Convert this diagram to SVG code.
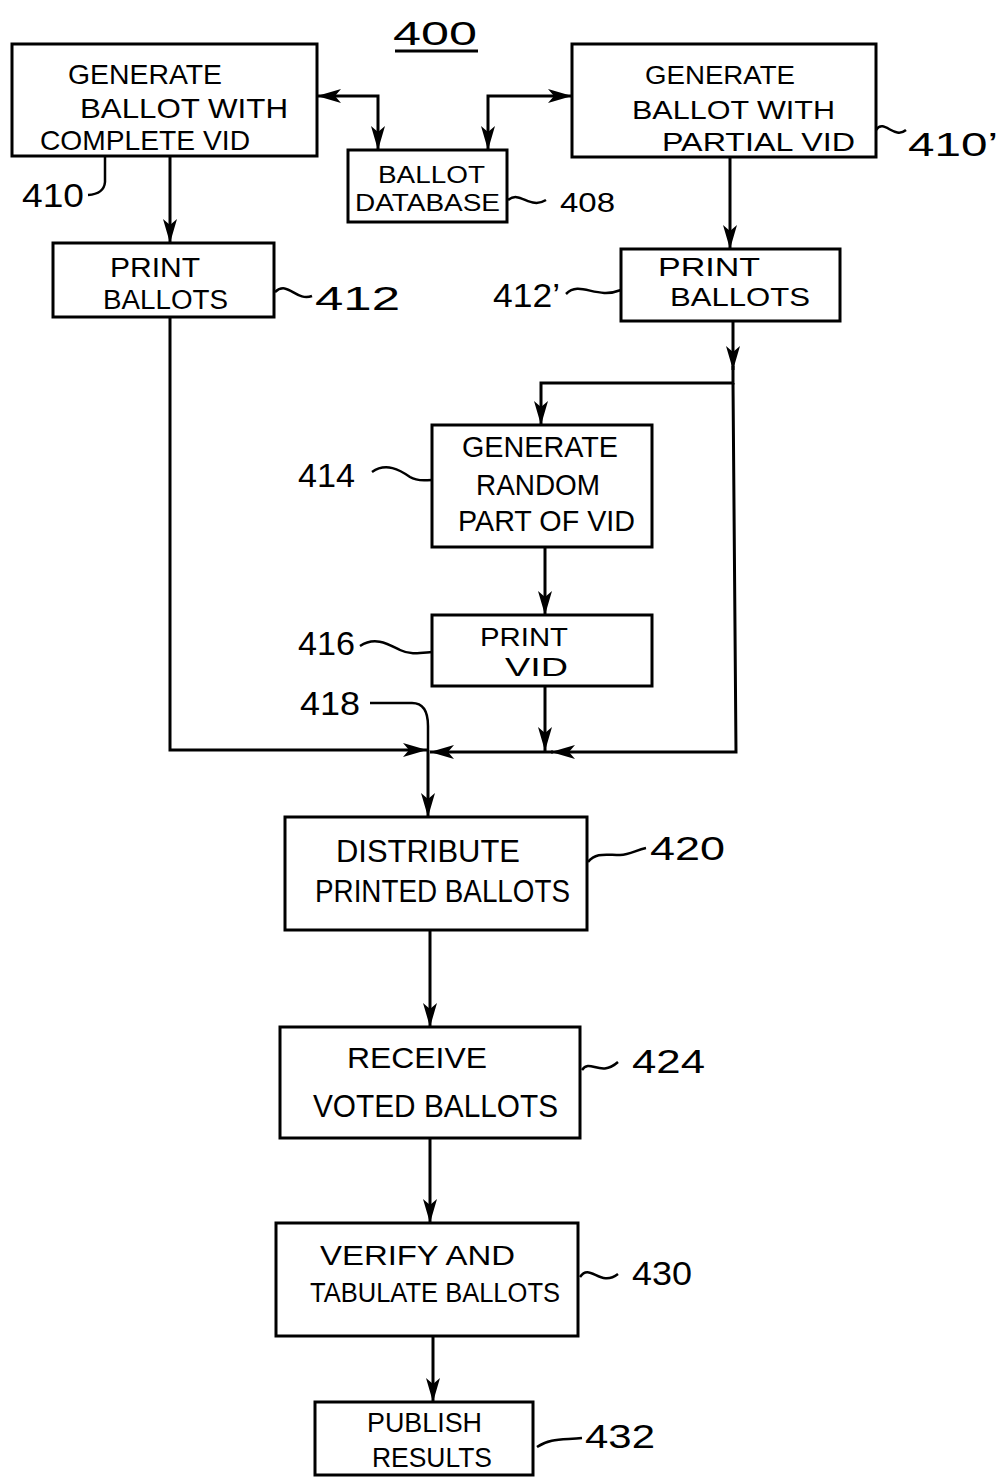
<svg xmlns="http://www.w3.org/2000/svg" width="1001" height="1478" viewBox="0 0 1001 1478">
<defs>
<style>
.box{fill:#fff;stroke:#000;stroke-width:3}
.t{font-family:"Liberation Sans",Arial,sans-serif;fill:#000}
.lbl{font-family:"Liberation Sans",Arial,sans-serif;fill:#000;font-size:34px}
.c{fill:none;stroke:#000;stroke-width:3}
.ld{fill:none;stroke:#000;stroke-width:2.5}
</style>
<marker id="ah" viewBox="0 0 24 14" refX="24" refY="7" markerWidth="24" markerHeight="14" markerUnits="userSpaceOnUse" orient="auto-start-reverse">
<path d="M0,0 L24,7 L0,14 L6,7 Z" fill="#000"/>
</marker>
</defs>
<rect width="1001" height="1478" fill="#fff"/>

<g id="title">
<text class="lbl" x="393" y="45" textLength="84" lengthAdjust="spacingAndGlyphs">400</text>
<line x1="395" y1="51" x2="478" y2="51" stroke="#000" stroke-width="3"/>
</g>

<g id="connectors">
<path class="c" d="M170,156 L170,243" stroke-width="4" marker-end="url(#ah)"/>
<path class="c" d="M317,96 L378,96 L378,150" marker-start="url(#ah)" marker-end="url(#ah)"/>
<path class="c" d="M488,150 L488,96 L572,96" marker-start="url(#ah)" marker-end="url(#ah)"/>
<path class="c" d="M730,157 L730,249" marker-end="url(#ah)"/>
<path class="c" d="M733,321 L733,370" marker-end="url(#ah)"/>
<path class="c" d="M733,366 L733,383 L541,383 L541,425" marker-end="url(#ah)"/>
<path class="c" d="M733,383 L736,752 L551,752" marker-end="url(#ah)"/>
<path class="c" d="M553,752 L430,752" marker-end="url(#ah)"/>
<path class="c" d="M545,547 L545,615" marker-end="url(#ah)"/>
<path class="c" d="M545,686 L545,751" marker-end="url(#ah)"/>
<path class="c" d="M170,317 L170,750 L427,750" marker-end="url(#ah)"/>
<path class="c" d="M428,750 L428,817" marker-end="url(#ah)"/>
<path class="c" d="M430,930 L430,1027" marker-end="url(#ah)"/>
<path class="c" d="M430,1138 L430,1223" marker-end="url(#ah)"/>
<path class="c" d="M433,1336 L433,1402" stroke-width="4" marker-end="url(#ah)"/>
</g>

<g id="n410">
<rect class="box" x="12" y="44" width="305" height="112"/>
<text class="t" x="68" y="84" font-size="28" textLength="154" lengthAdjust="spacingAndGlyphs">GENERATE</text>
<text class="t" x="80" y="118" font-size="28" textLength="208" lengthAdjust="spacingAndGlyphs">BALLOT WITH</text>
<text class="t" x="40" y="150" font-size="28" textLength="210" lengthAdjust="spacingAndGlyphs">COMPLETE VID</text>
<path class="ld" d="M105,157 L105,182 Q104,194 88,195"/>
<text class="lbl" x="22" y="207" textLength="62" lengthAdjust="spacingAndGlyphs">410</text>
</g>

<g id="n408">
<rect class="box" x="348" y="150" width="159" height="72"/>
<text class="t" x="378" y="183" font-size="24" textLength="107" lengthAdjust="spacingAndGlyphs">BALLOT</text>
<text class="t" x="355" y="211" font-size="24" textLength="145" lengthAdjust="spacingAndGlyphs">DATABASE</text>
<path class="ld" d="M508,200 C520,190 530,210 546,200"/>
<text class="t" x="560" y="212" font-size="28" textLength="55" lengthAdjust="spacingAndGlyphs">408</text>
</g>

<g id="n410p">
<rect class="box" x="572" y="44" width="304" height="113"/>
<text class="t" x="645" y="84" font-size="26" textLength="150" lengthAdjust="spacingAndGlyphs">GENERATE</text>
<text class="t" x="632" y="119" font-size="26" textLength="203" lengthAdjust="spacingAndGlyphs">BALLOT WITH</text>
<text class="t" x="662" y="151" font-size="26" textLength="193" lengthAdjust="spacingAndGlyphs">PARTIAL VID</text>
<path class="ld" d="M876,130 C884,118 894,140 906,130"/>
<text class="lbl" x="908" y="156" textLength="90" lengthAdjust="spacingAndGlyphs">410’</text>
</g>

<g id="n412">
<rect class="box" x="53" y="243" width="221" height="74"/>
<text class="t" x="110" y="277" font-size="27" textLength="90" lengthAdjust="spacingAndGlyphs">PRINT</text>
<text class="t" x="103" y="309" font-size="27" textLength="125" lengthAdjust="spacingAndGlyphs">BALLOTS</text>
<path class="ld" d="M275,292 C288,280 296,302 312,296"/>
<text class="lbl" x="315" y="310" textLength="85" lengthAdjust="spacingAndGlyphs">412</text>
</g>

<g id="n412p">
<rect class="box" x="621" y="249" width="219" height="72"/>
<text class="t" x="658" y="276" font-size="26" textLength="102" lengthAdjust="spacingAndGlyphs">PRINT</text>
<text class="t" x="670" y="306" font-size="26" textLength="140" lengthAdjust="spacingAndGlyphs">BALLOTS</text>
<path class="ld" d="M566,294 C580,280 596,300 621,290"/>
<text class="lbl" x="493" y="307" textLength="67" lengthAdjust="spacingAndGlyphs">412’</text>
</g>

<g id="n414">
<rect class="box" x="432" y="425" width="220" height="122"/>
<text class="t" x="462" y="457" font-size="30" textLength="156" lengthAdjust="spacingAndGlyphs">GENERATE</text>
<text class="t" x="476" y="495" font-size="30" textLength="124" lengthAdjust="spacingAndGlyphs">RANDOM</text>
<text class="t" x="458" y="531" font-size="30" textLength="177" lengthAdjust="spacingAndGlyphs">PART OF VID</text>
<path class="ld" d="M372,472 C386,462 400,470 410,477 C418,482 425,480 432,480"/>
<text class="lbl" x="298" y="487" textLength="57" lengthAdjust="spacingAndGlyphs">414</text>
</g>

<g id="n416">
<rect class="box" x="432" y="615" width="220" height="71"/>
<text class="t" x="480" y="646" font-size="26" textLength="88" lengthAdjust="spacingAndGlyphs">PRINT</text>
<text class="t" x="505" y="676" font-size="26" textLength="63" lengthAdjust="spacingAndGlyphs">VID</text>
<path class="ld" d="M360,646 C375,636 388,644 400,650 C410,655 420,653 432,652"/>
<text class="lbl" x="298" y="655" textLength="57" lengthAdjust="spacingAndGlyphs">416</text>
</g>

<g id="n418">
<path class="ld" d="M370,703 L412,703 C424,703 428,712 428,726 L428,750"/>
<text class="lbl" x="300" y="715" textLength="60" lengthAdjust="spacingAndGlyphs">418</text>
</g>

<g id="n420">
<rect class="box" x="285" y="817" width="302" height="113"/>
<text class="t" x="336" y="862" font-size="31" textLength="184" lengthAdjust="spacingAndGlyphs">DISTRIBUTE</text>
<text class="t" x="315" y="902" font-size="31" textLength="255" lengthAdjust="spacingAndGlyphs">PRINTED BALLOTS</text>
<path class="ld" d="M588,862 C596,852 606,855 620,855 C630,855 636,850 646,848"/>
<text class="lbl" x="650" y="860" textLength="75" lengthAdjust="spacingAndGlyphs">420</text>
</g>

<g id="n424">
<rect class="box" x="280" y="1027" width="300" height="111"/>
<text class="t" x="347" y="1068" font-size="30" textLength="140" lengthAdjust="spacingAndGlyphs">RECEIVE</text>
<text class="t" x="313" y="1117" font-size="32" textLength="245" lengthAdjust="spacingAndGlyphs">VOTED  BALLOTS</text>
<path class="ld" d="M582,1070 C590,1058 600,1078 618,1062"/>
<text class="lbl" x="632" y="1073" textLength="73" lengthAdjust="spacingAndGlyphs">424</text>
</g>

<g id="n430">
<rect class="box" x="276" y="1223" width="302" height="113"/>
<text class="t" x="320" y="1265" font-size="27" textLength="195" lengthAdjust="spacingAndGlyphs">VERIFY  AND</text>
<text class="t" x="310" y="1302" font-size="27" textLength="250" lengthAdjust="spacingAndGlyphs">TABULATE BALLOTS</text>
<path class="ld" d="M580,1277 C590,1262 600,1288 618,1274"/>
<text class="lbl" x="632" y="1285" textLength="60" lengthAdjust="spacingAndGlyphs">430</text>
</g>

<g id="n432">
<rect class="box" x="315" y="1402" width="218" height="73"/>
<text class="t" x="367" y="1432" font-size="27" textLength="115" lengthAdjust="spacingAndGlyphs">PUBLISH</text>
<text class="t" x="372" y="1467" font-size="27" textLength="120" lengthAdjust="spacingAndGlyphs">RESULTS</text>
<path class="ld" d="M537,1447 C550,1438 562,1440 582,1438"/>
<text class="lbl" x="585" y="1448" textLength="70" lengthAdjust="spacingAndGlyphs">432</text>
</g>
</svg>
